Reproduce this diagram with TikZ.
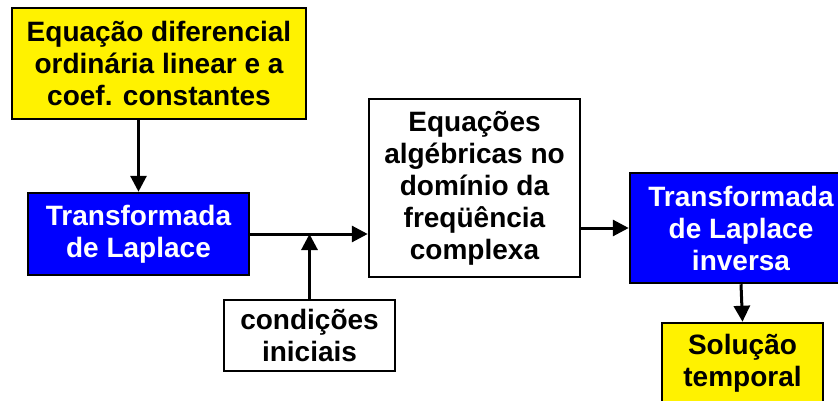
\documentclass[tikz,border=0pt]{standalone}
\usepackage{fontspec}
\setmainfont{Liberation Sans}
\usetikzlibrary{positioning,arrows.meta}

\begin{document}
\begin{tikzpicture}[x=1pt,y=-1pt,
	every node/.style={draw=black,line width=2.5pt,align=center,inner sep=0pt,
		font=\fontsize{28}{32}\selectfont\bfseries},
	yellowbox/.style={fill=yellow,text=black},
	bluebox/.style={fill=blue,text=white},
	whitebox/.style={fill=white,text=black},
	arr/.style={line width=3pt,-{Triangle[length=16pt,width=16pt]}}]
			\useasboundingbox (0,0) rectangle (838,401);
			\clip (0,0) rectangle (838,401);

			%left side
			\node [yellowbox,minimum width=294,minimum height=111] (edo) at (159,63.5) {Equação diferencial\\ordinária linear e a\\coef. constantes};
			\node [bluebox,minimum width=221,minimum height=82] (tl) at (138.5,234) {Transformada\\de Laplace};
			\node [whitebox,minimum width=171,minimum height=71] (ci) at (309.5,335.5) {condições\\iniciais};

			%middle
			\node [whitebox,minimum width=211,minimum height=178] (alg) at (474.5,188) {Equações\\algébricas no\\domínio da\\freqüência\\complexa};

			%right side
			\node [bluebox,minimum width=222,minimum height=110] (tli) at (741,228) {Transformada\\de Laplace\\inversa};
			\node [yellowbox,minimum width=161,minimum height=80] (sol) at (742.5,363) {Solução\\temporal};

			%edges
			\coordinate (j) at (ci.north |- tl.east);
			\draw[arr] (tl.north |- edo.south) -- (tl.north);
			\draw[arr] (tl.east) -- (tl.east -| alg.west);
			\draw[arr] (ci.north) -- (j);
			\draw[arr] (alg.east |- tli.west) -- (tli.west);
			\draw[arr] (tli.south) -- (sol.north);
		\end{tikzpicture}
\end{document}
